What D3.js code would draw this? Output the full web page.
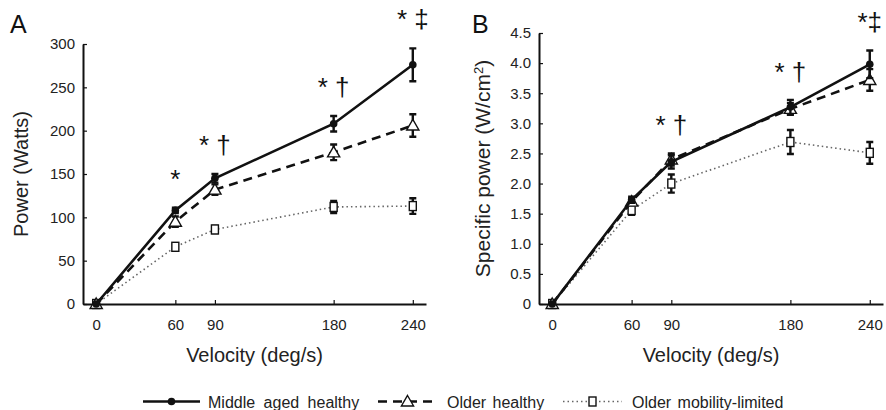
<!DOCTYPE html>
<html lang="en">
<head>
  <meta charset="UTF-8">
  <title>Power vs velocity</title>
  <style>
    body{ margin: 0; background: #fff; }
    svg{ display: block; font-family: "Liberation Sans", Arial, sans-serif; }
  </style>
</head>
<body>
<svg width="886" height="410"></svg>

<script src="https://cdn.jsdelivr.net/npm/d3@7/dist/d3.min.js"></script>
<script>
  // velocities (deg/s)
  var velocity = [0, 60, 90, 180, 240];
  var xTicks = [0, 60, 90, 180, 240];

  // panel A: power (Watts)
  var powerMiddle = [0, 108, 145, 208, 276];
  var powerMiddleErr = [0, 3, 5, 9, 19];
  var powerOlder = [0, 95, 132, 175, 206];
  var powerOlderErr = [0, 6, 6, 9, 13];
  var powerLimited = [0, 66, 86, 112, 113];
  var powerLimitedErr = [0, 3, 4, 7, 9];
  var powerTicks = [0, 50, 100, 150, 200, 250, 300];
  var powerMarks = [[60, '*'], [90, '* †'], [180, '* †'], [240, '* ‡']];

  // panel B: specific power (W/cm2)
  var specMiddle = [0, 1.73, 2.36, 3.27, 3.98];
  var specMiddleErr = [0, 0.05, 0.11, 0.12, 0.23];
  var specOlder = [0, 1.70, 2.40, 3.24, 3.72];
  var specOlderErr = [0, 0.05, 0.1, 0.1, 0.18];
  var specLimited = [0, 1.56, 2.00, 2.69, 2.51];
  var specLimitedErr = [0, 0.08, 0.15, 0.2, 0.18];
  var specTicks = [0, 0.5, 1.0, 1.5, 2.0, 2.5, 3.0, 3.5, 4.0, 4.5];
  var specMarks = [[90, '* †'], [180, '* †'], [240, '*‡']];

  var groups = ['Middle aged healthy', 'Older healthy', 'Older mobility-limited'];

  var svg = d3.select('svg');

  // line style per group
  var styles = [
    {stroke: '#111', width: 2.6, dash: null, marker: 'circle'},
    {stroke: '#111', width: 2.6, dash: '9,6', marker: 'triangle'},
    {stroke: '#666', width: 1.6, dash: '1.5,3', marker: 'square'}
  ];

  function drawMarker(g, type, x, y) {
    if (type === 'circle') {
      g.append('circle').attr('cx', x).attr('cy', y).attr('r', 3.8).attr('fill', '#111');
    } else if (type === 'triangle') {
      g.append('path').attr('d', d3.symbol(d3.symbolTriangle, 64)()).attr('transform', `translate(${x},${y + 1})`)
        .attr('fill', '#fff').attr('stroke', '#111').attr('stroke-width', 1.4);
    } else {
      g.append('rect').attr('x', x - 3.5).attr('y', y - 4.5).attr('width', 7).attr('height', 9)
        .attr('fill', '#fff').attr('stroke', '#111').attr('stroke-width', 1.4);
    }
  }

  function panel(opt) {
    var g = svg.append('g');
    var x = d3.scaleLinear().domain([-10, 250]).range([opt.left, opt.right]);
    var y = d3.scaleLinear().domain([0, opt.ymax]).range([304, opt.top]);

    // axes, ticks pointing inward
    var xAxis = g.append('g').attr('transform', `translate(0,304)`)
      .call(d3.axisBottom(x).tickValues(xTicks).tickSizeInner(-4).tickSizeOuter(0).tickPadding(12));
    var yAxis = g.append('g').attr('transform', `translate(${opt.left},0)`)
      .call(d3.axisLeft(y).tickValues(opt.ticks).tickSizeInner(-4).tickSizeOuter(0).tickPadding(8).tickFormat(opt.fmt));
    [xAxis, yAxis].forEach(function (a) {
      a.select('.domain').attr('stroke', '#111').attr('stroke-width', 2);
      a.selectAll('.tick line').attr('stroke', '#111').attr('stroke-width', 1.2);
      a.selectAll('.tick text').attr('font-size', 15).attr('fill', '#222').attr('font-family', '"Liberation Sans", Arial, sans-serif');
    });
    xAxis.selectAll('.tick text').attr('dy', '0.9em');

    // series (drawn back to front)
    for (var s = opt.series.length - 1; s >= 0; s--) {
      var vals = opt.series[s], errs = opt.errors[s], st = styles[s];
      var pts = velocity.map(function (v, i) { return [x(v), y(vals[i])]; });
      g.append('path').attr('d', d3.line()(pts)).attr('fill', 'none')
        .attr('stroke', st.stroke).attr('stroke-width', st.width)
        .attr('stroke-dasharray', st.dash);
      velocity.forEach(function (v, i) {
        if (errs[i] > 0) {
          var cx = x(v), y1 = y(vals[i] - errs[i]), y2 = y(vals[i] + errs[i]);
          g.append('path').attr('d', `M${cx},${y1}V${y2}M${cx - 3.5},${y1}H${cx + 3.5}M${cx - 3.5},${y2}H${cx + 3.5}`)
            .attr('stroke', '#111').attr('stroke-width', 2.4).attr('fill', 'none');
        }
        drawMarker(g, st.marker, x(v), y(vals[i]));
      });
    }

    // significance marks
    opt.marks.forEach(function (m) {
      var k = velocity.indexOf(m[0]);
      var top = d3.max(opt.series, function (ser, j) { return ser[k] + opt.errors[j][k]; });
      g.append('text').attr('x', x(m[0])).attr('y', y(top) - opt.markGap)
        .attr('text-anchor', 'middle').attr('font-size', 26).attr('fill', '#111').text(m[1]);
    });

    // panel letter
    g.append('text').attr('x', opt.letterX).attr('y', 33).attr('font-size', 25).attr('fill', '#111').text(opt.letter);

    // axis titles
    g.append('text').attr('x', (opt.left + opt.right) / 2).attr('y', 362).attr('text-anchor', 'middle')
      .attr('font-size', 20).attr('fill', '#222').text('Velocity (deg/s)');
    var yl = g.append('text').attr('transform', `translate(${opt.labelX},${(304 + opt.top) / 2}) rotate(-90)`)
      .attr('text-anchor', 'middle').attr('font-size', opt.labelSize).attr('fill', '#222');
    opt.ylabel(yl);
  }

  panel({
    left: 83, right: 426, top: 44, ymax: 300, ticks: powerTicks, fmt: d3.format('d'),
    series: [powerMiddle, powerOlder, powerLimited], errors: [powerMiddleErr, powerOlderErr, powerLimitedErr],
    marks: powerMarks, markGap: 20, letter: 'A', letterX: 10, labelX: 28, labelSize: 20,
    ylabel: function (t) { t.text('Power (Watts)'); }
  });

  panel({
    left: 539, right: 883, top: 33, ymax: 4.5, ticks: specTicks,
    fmt: function (d) { return d === 0 ? '0' : d3.format('.1f')(d); },
    series: [specMiddle, specOlder, specLimited], errors: [specMiddleErr, specOlderErr, specLimitedErr],
    marks: specMarks, markGap: 19, letter: 'B', letterX: 472, labelX: 490, labelSize: 21,
    ylabel: function (t) {
      t.append('tspan').text('Specific power (W/cm');
      t.append('tspan').attr('font-size', 13).attr('dy', -7).text('2');
      t.append('tspan').attr('dy', 7).text(')');
    }
  });

  // legend
  var legend = svg.append('g').attr('transform', 'translate(0,401.5)');
  var legendX = [[143, 200, 208], [378, 437, 447], [563, 622, 632]];
  groups.forEach(function (name, i) {
    var st = styles[i], lx = legendX[i];
    legend.append('line').attr('x1', lx[0]).attr('x2', lx[1]).attr('y1', 0).attr('y2', 0)
      .attr('stroke', st.stroke).attr('stroke-width', st.width).attr('stroke-dasharray', st.dash);
    drawMarker(legend, st.marker, (lx[0] + lx[1]) / 2, 0);
    legend.append('text').attr('x', lx[2]).attr('y', 6).attr('font-size', 16).attr('fill', '#222')
      .attr('word-spacing', i === 0 ? 4 : 2).text(name);
  });
</script>
</body>
</html>
